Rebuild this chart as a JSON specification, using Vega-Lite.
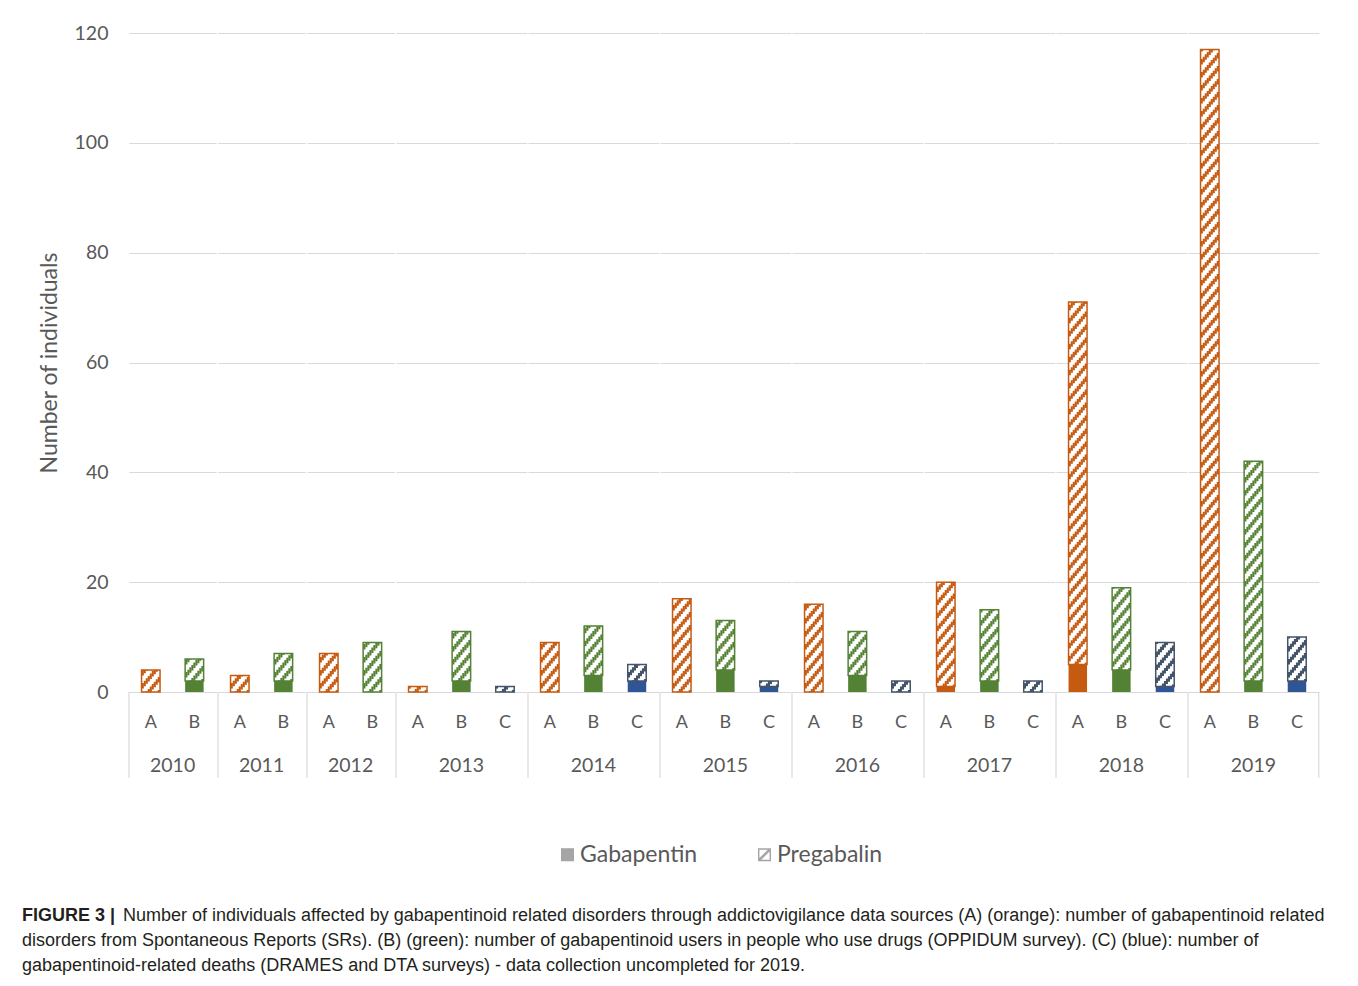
{
  "$schema": "https://vega.github.io/schema/vega-lite/v6.json",
  "background": "white",
  "padding": {"left": 22, "top": 23, "right": 30, "bottom": 10},
  "spacing": 0,
  "config": {
    "view": {"stroke": null},
    "font": "Lato",
    "facet": {"spacing": 0},
    "axisY": {"grid": true, "gridColor": "#d9d9d9", "gridWidth": 1.2, "domain": false, "ticks": false, "labelPadding": 20, "labelFontSize": 19.5, "labelColor": "#595959", "labelFont": "Lato", "titleFont": "Lato", "titleFontSize": 23, "titleFontWeight": "normal", "titleColor": "#595959", "titlePadding": 13},
    "axisX": {"title": null, "labelAngle": 0, "labelFontSize": 18, "labelColor": "#595959", "labelFont": "Lato", "labelPadding": 21, "ticks": false, "domain": true, "domainColor": "#d9d9d9", "domainWidth": 1.2, "grid": false}
  },
  "data": {"values": [
    {"year": "2010", "src": "A", "drug": "Gabapentin", "n": 0}, {"year": "2010", "src": "A", "drug": "Pregabalin", "n": 4},
    {"year": "2010", "src": "B", "drug": "Gabapentin", "n": 2}, {"year": "2010", "src": "B", "drug": "Pregabalin", "n": 4},
    {"year": "2011", "src": "A", "drug": "Gabapentin", "n": 0}, {"year": "2011", "src": "A", "drug": "Pregabalin", "n": 3},
    {"year": "2011", "src": "B", "drug": "Gabapentin", "n": 2}, {"year": "2011", "src": "B", "drug": "Pregabalin", "n": 5},
    {"year": "2012", "src": "A", "drug": "Gabapentin", "n": 0}, {"year": "2012", "src": "A", "drug": "Pregabalin", "n": 7},
    {"year": "2012", "src": "B", "drug": "Gabapentin", "n": 0}, {"year": "2012", "src": "B", "drug": "Pregabalin", "n": 9},
    {"year": "2013", "src": "A", "drug": "Gabapentin", "n": 0}, {"year": "2013", "src": "A", "drug": "Pregabalin", "n": 1},
    {"year": "2013", "src": "B", "drug": "Gabapentin", "n": 2}, {"year": "2013", "src": "B", "drug": "Pregabalin", "n": 9},
    {"year": "2013", "src": "C", "drug": "Gabapentin", "n": 0}, {"year": "2013", "src": "C", "drug": "Pregabalin", "n": 1},
    {"year": "2014", "src": "A", "drug": "Gabapentin", "n": 0}, {"year": "2014", "src": "A", "drug": "Pregabalin", "n": 9},
    {"year": "2014", "src": "B", "drug": "Gabapentin", "n": 3}, {"year": "2014", "src": "B", "drug": "Pregabalin", "n": 9},
    {"year": "2014", "src": "C", "drug": "Gabapentin", "n": 2}, {"year": "2014", "src": "C", "drug": "Pregabalin", "n": 3},
    {"year": "2015", "src": "A", "drug": "Gabapentin", "n": 0}, {"year": "2015", "src": "A", "drug": "Pregabalin", "n": 17},
    {"year": "2015", "src": "B", "drug": "Gabapentin", "n": 4}, {"year": "2015", "src": "B", "drug": "Pregabalin", "n": 9},
    {"year": "2015", "src": "C", "drug": "Gabapentin", "n": 1}, {"year": "2015", "src": "C", "drug": "Pregabalin", "n": 1},
    {"year": "2016", "src": "A", "drug": "Gabapentin", "n": 0}, {"year": "2016", "src": "A", "drug": "Pregabalin", "n": 16},
    {"year": "2016", "src": "B", "drug": "Gabapentin", "n": 3}, {"year": "2016", "src": "B", "drug": "Pregabalin", "n": 8},
    {"year": "2016", "src": "C", "drug": "Gabapentin", "n": 0}, {"year": "2016", "src": "C", "drug": "Pregabalin", "n": 2},
    {"year": "2017", "src": "A", "drug": "Gabapentin", "n": 1}, {"year": "2017", "src": "A", "drug": "Pregabalin", "n": 19},
    {"year": "2017", "src": "B", "drug": "Gabapentin", "n": 2}, {"year": "2017", "src": "B", "drug": "Pregabalin", "n": 13},
    {"year": "2017", "src": "C", "drug": "Gabapentin", "n": 0}, {"year": "2017", "src": "C", "drug": "Pregabalin", "n": 2},
    {"year": "2018", "src": "A", "drug": "Gabapentin", "n": 5}, {"year": "2018", "src": "A", "drug": "Pregabalin", "n": 66},
    {"year": "2018", "src": "B", "drug": "Gabapentin", "n": 4}, {"year": "2018", "src": "B", "drug": "Pregabalin", "n": 15},
    {"year": "2018", "src": "C", "drug": "Gabapentin", "n": 1}, {"year": "2018", "src": "C", "drug": "Pregabalin", "n": 8},
    {"year": "2019", "src": "A", "drug": "Gabapentin", "n": 0}, {"year": "2019", "src": "A", "drug": "Pregabalin", "n": 117},
    {"year": "2019", "src": "B", "drug": "Gabapentin", "n": 2}, {"year": "2019", "src": "B", "drug": "Pregabalin", "n": 40},
    {"year": "2019", "src": "C", "drug": "Gabapentin", "n": 2}, {"year": "2019", "src": "C", "drug": "Pregabalin", "n": 8}
  ]},
  "transform": [
    {"stack": "n", "groupby": ["year", "src"], "sort": [{"field": "drug", "order": "ascending"}], "as": ["lo", "hi"]}
  ],
  "facet": {"column": {"field": "year", "type": "ordinal", "title": null,
    "header": {"labelOrient": "bottom", "labelFont": "Lato", "labelFontSize": 19.5, "labelColor": "#595959", "labelPadding": -22}}},
  "resolve": {"scale": {"x": "independent"}, "axis": {"x": "independent"}},
  "title": {
    "text": [
      "disorders from Spontaneous Reports (SRs). (B) (green): number of gabapentinoid users in people who use drugs (OPPIDUM survey). (C) (blue): number of",
      "gabapentinoid-related deaths (DRAMES and DTA surveys) - data collection uncompleted for 2019."
    ],
    "orient": "bottom", "anchor": "start", "frame": "bounds",
    "font": "Liberation Sans", "fontSize": 18, "fontWeight": "normal", "color": "#231f20",
    "lineHeight": 25, "offset": 7, "dx": 0
  },
  "spec": {
    "width": {"step": 43.59},
    "height": 659,
    "layer": [
      {
        "mark": {"type": "rule", "color": "#d9d9d9", "strokeWidth": 1.2},
        "transform": [{"filter": "datum.src === 'A' && datum.drug === 'Gabapentin'"}],
        "encoding": {
          "x": {"field": "src", "type": "nominal", "bandPosition": 0, "scale": {"paddingInner": 0, "paddingOuter": 0}},
          "y": {"datum": 0, "type": "quantitative", "scale": {"domain": [0, 120], "nice": false}},
          "y2": {"datum": -15.6}
        }
      },
      {
        "mark": {"type": "rule", "color": "#d9d9d9", "strokeWidth": 1.2},
        "transform": [{"filter": "datum.year === '2019' && datum.src === 'C' && datum.drug === 'Gabapentin'"}],
        "encoding": {
          "x": {"field": "src", "type": "nominal", "bandPosition": 1},
          "y": {"datum": 0, "type": "quantitative"},
          "y2": {"datum": -15.6}
        }
      },
      {
        "mark": {"type": "bar", "width": 18.5},
        "transform": [{"filter": "datum.drug === 'Gabapentin' && datum.n > 0"}],
        "encoding": {
          "x": {"field": "src", "type": "nominal"},
          "y": {"field": "lo", "type": "quantitative", "title": "Number of individuals", "axis": {"values": [0, 20, 40, 60, 80, 100, 120]}, "scale": {"domain": [0, 120], "nice": false}},
          "y2": {"field": "hi"},
          "fill": {"field": "src", "type": "nominal", "scale": {"domain": ["A", "B", "C"], "range": ["#c55a11", "#548235", "#2f5597"]}, "legend": null}
        }
      },
      {
        "mark": {"type": "bar", "width": 18.5, "fill": "white"},
        "transform": [{"filter": "datum.drug === 'Pregabalin' && datum.n > 0"}],
        "encoding": {
          "x": {"field": "src", "type": "nominal"},
          "y": {"field": "lo", "type": "quantitative"},
          "y2": {"field": "hi"}
        }
      },
      {"mark": {"type": "rule", "xOffset": -8, "strokeWidth": 2.1, "strokeDash": [5.5, 7.5], "strokeDashOffset": 9.6, "strokeCap": "butt"},
       "transform": [{"filter": "datum.drug === 'Pregabalin' && datum.n > 0"}],
       "encoding": {"x": {"field": "src", "type": "nominal"}, "y": {"field": "lo", "type": "quantitative"}, "y2": {"field": "hi"},
         "stroke": {"field": "src", "type": "nominal", "scale": {"domain": ["A", "B", "C"], "range": ["#c55a11", "#548235", "#44546a"]}, "legend": null}}},
      {"mark": {"type": "rule", "xOffset": -6, "strokeWidth": 2.1, "strokeDash": [5.5, 7.5], "strokeDashOffset": 7.2, "strokeCap": "butt"},
       "transform": [{"filter": "datum.drug === 'Pregabalin' && datum.n > 0"}],
       "encoding": {"x": {"field": "src", "type": "nominal"}, "y": {"field": "lo", "type": "quantitative"}, "y2": {"field": "hi"}, "stroke": {"field": "src", "type": "nominal", "legend": null}}},
      {"mark": {"type": "rule", "xOffset": -4, "strokeWidth": 2.1, "strokeDash": [5.5, 7.5], "strokeDashOffset": 4.8, "strokeCap": "butt"},
       "transform": [{"filter": "datum.drug === 'Pregabalin' && datum.n > 0"}],
       "encoding": {"x": {"field": "src", "type": "nominal"}, "y": {"field": "lo", "type": "quantitative"}, "y2": {"field": "hi"}, "stroke": {"field": "src", "type": "nominal", "legend": null}}},
      {"mark": {"type": "rule", "xOffset": -2, "strokeWidth": 2.1, "strokeDash": [5.5, 7.5], "strokeDashOffset": 2.4, "strokeCap": "butt"},
       "transform": [{"filter": "datum.drug === 'Pregabalin' && datum.n > 0"}],
       "encoding": {"x": {"field": "src", "type": "nominal"}, "y": {"field": "lo", "type": "quantitative"}, "y2": {"field": "hi"}, "stroke": {"field": "src", "type": "nominal", "legend": null}}},
      {"mark": {"type": "rule", "xOffset": 0, "strokeWidth": 2.1, "strokeDash": [5.5, 7.5], "strokeDashOffset": 0, "strokeCap": "butt"},
       "transform": [{"filter": "datum.drug === 'Pregabalin' && datum.n > 0"}],
       "encoding": {"x": {"field": "src", "type": "nominal"}, "y": {"field": "lo", "type": "quantitative"}, "y2": {"field": "hi"}, "stroke": {"field": "src", "type": "nominal", "legend": null}}},
      {"mark": {"type": "rule", "xOffset": 2, "strokeWidth": 2.1, "strokeDash": [5.5, 7.5], "strokeDashOffset": 10.6, "strokeCap": "butt"},
       "transform": [{"filter": "datum.drug === 'Pregabalin' && datum.n > 0"}],
       "encoding": {"x": {"field": "src", "type": "nominal"}, "y": {"field": "lo", "type": "quantitative"}, "y2": {"field": "hi"}, "stroke": {"field": "src", "type": "nominal", "legend": null}}},
      {"mark": {"type": "rule", "xOffset": 4, "strokeWidth": 2.1, "strokeDash": [5.5, 7.5], "strokeDashOffset": 8.2, "strokeCap": "butt"},
       "transform": [{"filter": "datum.drug === 'Pregabalin' && datum.n > 0"}],
       "encoding": {"x": {"field": "src", "type": "nominal"}, "y": {"field": "lo", "type": "quantitative"}, "y2": {"field": "hi"}, "stroke": {"field": "src", "type": "nominal", "legend": null}}},
      {"mark": {"type": "rule", "xOffset": 6, "strokeWidth": 2.1, "strokeDash": [5.5, 7.5], "strokeDashOffset": 5.8, "strokeCap": "butt"},
       "transform": [{"filter": "datum.drug === 'Pregabalin' && datum.n > 0"}],
       "encoding": {"x": {"field": "src", "type": "nominal"}, "y": {"field": "lo", "type": "quantitative"}, "y2": {"field": "hi"}, "stroke": {"field": "src", "type": "nominal", "legend": null}}},
      {"mark": {"type": "rule", "xOffset": 8, "strokeWidth": 2.1, "strokeDash": [5.5, 7.5], "strokeDashOffset": 3.4, "strokeCap": "butt"},
       "transform": [{"filter": "datum.drug === 'Pregabalin' && datum.n > 0"}],
       "encoding": {"x": {"field": "src", "type": "nominal"}, "y": {"field": "lo", "type": "quantitative"}, "y2": {"field": "hi"}, "stroke": {"field": "src", "type": "nominal", "legend": null}}},
      {
        "mark": {"type": "bar", "width": 18.5, "filled": false, "strokeWidth": 1.5},
        "transform": [{"filter": "datum.drug === 'Pregabalin' && datum.n > 0"}],
        "encoding": {
          "x": {"field": "src", "type": "nominal"},
          "y": {"field": "lo", "type": "quantitative"},
          "y2": {"field": "hi"},
          "stroke": {"field": "src", "type": "nominal", "legend": null}
        }
      },
      {
        "mark": {"type": "point", "filled": true, "opacity": 0, "color": "#a5a5a5"},
        "encoding": {
          "x": {"field": "src", "type": "nominal"},
          "y": {"field": "hi", "type": "quantitative"},
          "shape": {"field": "drug", "type": "nominal",
            "scale": {"domain": ["Gabapentin", "Pregabalin"], "range": ["square", "M-1,-1H1V1H-1Z M-0.78,-0.78V0.78H0.78V-0.78Z M-0.78,0.5L0.5,-0.78H0.78V-0.5L-0.5,0.78H-0.78Z"]},
            "legend": {"title": null, "orient": "none", "direction": "horizontal", "legendX": 427, "legendY": 810,
              "symbolSize": 170, "symbolFillColor": "#a5a5a5", "symbolStrokeWidth": 0, "symbolOpacity": 1,
              "labelFont": "Lato", "labelFontSize": 23, "labelColor": "#595959", "labelOffset": 1, "columnPadding": 55}}
        }
      },
      {
        "mark": {"type": "point", "opacity": 0, "filled": true},
        "encoding": {
          "x": {"field": "src", "type": "nominal"},
          "y": {"field": "hi", "type": "quantitative"},
          "color": {"datum": "caption", "type": "nominal", "scale": {"range": ["#ffffff"]},
            "legend": {"orient": "none", "legendX": -107, "legendY": 874, "direction": "vertical",
              "title": "FIGURE 3 |", "titleOrient": "left", "titleFont": "Liberation Sans", "titleFontSize": 18, "titleFontWeight": "bold", "titleColor": "#231f20", "titlePadding": -11,
              "labelExpr": "'Number of individuals affected by gabapentinoid related disorders through addictovigilance data sources (A) (orange): number of gabapentinoid related'",
              "labelFont": "Liberation Sans", "labelFontSize": 18, "labelColor": "#231f20", "labelLimit": 1500, "labelOffset": 0,
              "symbolSize": 1, "symbolOpacity": 0, "symbolStrokeWidth": 0}}
        }
      }
    ]
  }
}
